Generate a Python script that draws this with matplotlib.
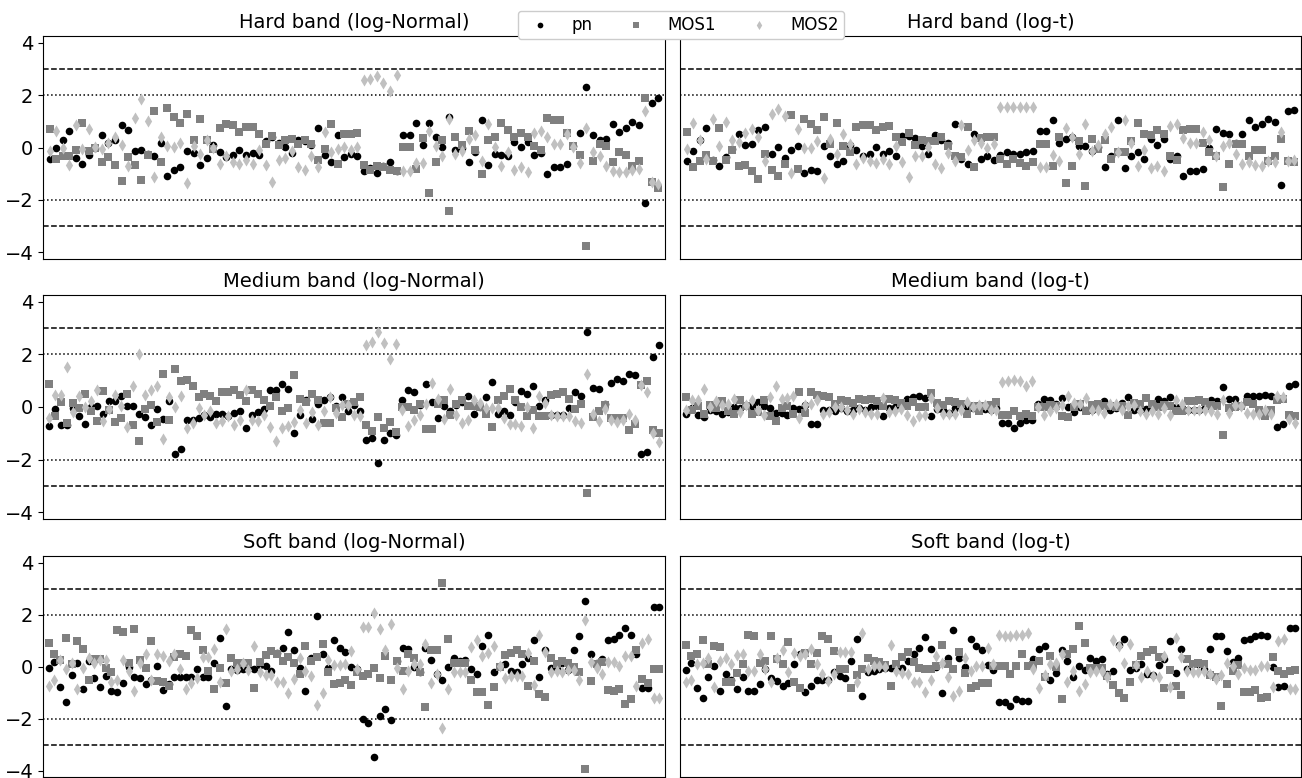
"""Standardised residuals per source for pn / MOS1 / MOS2 in three energy bands."""

import matplotlib

matplotlib.use("Agg")
import matplotlib.pyplot as plt
import numpy as np

BAND_TITLES = [
    "Hard band (log-Normal)", "Hard band (log-t)",
    "Medium band (log-Normal)", "Medium band (log-t)",
    "Soft band (log-Normal)", "Soft band (log-t)",
]
SERIES_LABELS = ["pn", "MOS1", "MOS2"]

# --- Hard band, log-Normal (94 sources) ---
hard_logn_pn = [
    -0.43, 0.0, 0.27, 0.61, -0.41, -0.63, -0.28, 0.0, 0.46, 0.19, 0.27, 0.86, 0.65, -0.13, -0.11, -0.25,
    -0.34, 0.18, -1.09, -0.84, -0.76, -0.15, -0.22, -0.65, -0.39, 0.10, -0.19, -0.37, -0.30, -0.09, -0.30,
    -0.22, -0.28, 0.25, 0.40, 0.19, 0.02, -0.2, 0.30, 0.24, 0.1, 0.73, -0.27, -0.57, 0.49, -0.37, -0.24,
    -0.32, -0.91, -0.79, -0.96, -0.72, -0.56, -0.89, 0.48, 0.48, 0.93, 0.1, 0.93, 0.39, 0.03, 1.16, -0.11,
    0.0, -0.56, -0.19, 1.04, -0.66, -0.24, -0.29, -0.34, 0.22, 0.03, 0.22, -0.28, -0.22, -1.02, -0.76,
    -0.76, -0.62, 0.04, 0.56, 2.3, 0.47, 0.3, 0.34, 0.89, 0.6, 0.76, 0.99, 0.85, -2.12, 1.68, 1.89,
]
hard_logn_mos1 = [
    0.7, -0.43, -0.34, -0.34, -0.1, 0.93, -0.15, 0.0, -0.57, -0.38, -0.66, -1.27, -0.38, -0.66, -1.23, -0.3,
    1.38, -0.55, 1.51, 1.16, 0.93, 1.27, 0.3, 1.09, 0.3, -0.05, 0.76, 0.88, 0.85, 0.6, 0.77, 0.79, 0.5,
    0.15, 0.44, 0.09, 0.29, 0.34, 0.14, 0.29, 0.13, -0.47, -0.05, 0.91, -0.63, 0.5, 0.5, 0.55, -0.65,
    -0.85, -0.69, -0.75, -0.85, -0.89, 0.03, 0.03, -0.83, 0.37, -1.74, -0.56, 0.28, -2.41, 0.39, 0.08,
    0.61, -0.11, -1.0, 0.27, 0.39, 0.95, 0.65, 0.39, 0.57, 0.39, 0.04, -0.11, 1.12, 1.03, 1.03, 0.57,
    0.05, -0.3, -3.77, -0.52, 0.14, 0.06, -0.56, -0.19, -0.29, -0.7, -0.52, 1.89, -1.31, -1.56,
]
hard_logn_mos2 = [
    -0.15, 0.61, -0.03, -0.65, 0.84, -0.04, 0.69, 0.03, -0.04, 0.19, 0.39, 0.09, -0.72, 1.14, 1.84, 1.0,
    -1.12, 0.39, 0.04, 0.01, 0.19, -1.35, 0.06, -0.23, 0.3, -0.03, -0.62, -0.34, -0.56, -0.62, -0.47,
    -0.62, -0.09, -0.67, -1.3, -0.47, -0.39, -0.15, -0.74, -0.85, -0.33, -0.74, 0.58, -0.18, -0.04, 0.01,
    -0.11, 0.03, 2.58, 2.6, 2.72, 2.45, 2.17, 2.78, -0.88, -0.88, -0.6, -0.58, 0.63, 0.06, -0.34, 1.09,
    -0.24, -0.15, 0.32, 0.47, -0.53, 0.88, 0.01, -0.7, -0.19, -0.84, -0.74, -0.94, 0.56, 0.61, 0.39,
    0.15, 0.15, 0.5, 0.03, -0.58, 0.75, -0.17, -0.34, -0.72, -0.88, -0.95, -0.95, -0.85, -0.83, 1.41,
    -1.31, -1.4,
]

# --- Hard band, log-t (94 sources) ---
hard_logt_pn = [
    -0.5, -0.15, 0.27, 0.76, -0.47, -0.7, -0.37, -0.04, 0.5, 0.11, 0.14, 0.67, 0.8, -0.23, 0.01, -0.39,
    -0.09, 0.06, -0.98, -0.85, -0.9, 0.06, -0.32, -0.62, -0.53, 0.11, -0.11, -0.32, -0.24, 0.01, -0.24,
    -0.15, -0.34, 0.42, 0.45, 0.36, 0.04, -0.24, 0.48, 0.3, 0.17, 0.9, -0.44, -0.62, 0.52, -0.45, -0.34,
    -0.47, -0.3, -0.18, -0.24, -0.25, -0.18, -0.15, 0.63, 0.63, 1.03, 0.19, 0.32, 0.39, 0.04, 0.04, -0.15,
    0.01, -0.75, -0.32, 1.05, -0.79, -0.34, -0.19, -0.42, 0.32, 0.11, 0.34, -0.44, -0.34, -1.08, -0.88,
    -0.88, -0.81, -0.03, 0.7, 0.57, 0.5, 0.17, 0.5, 1.05, 0.77, 0.9, 1.09, 0.98, -1.42, 1.41, 1.43,
]
hard_logt_mos1 = [
    0.58, -0.74, -0.53, -0.29, -0.5, 0.75, -0.47, -0.11, -0.7, -0.65, -0.89, -1.19, -0.24, -0.86, -1.1,
    -0.62, 1.24, -0.81, 1.09, 0.88, 0.65, 1.16, 0.14, 0.94, 0.04, -0.19, 0.77, 0.84, 0.85, 0.65, 0.77,
    0.83, 0.39, 0.22, 0.55, 0.11, 0.29, 0.23, 0.23, 0.39, 0.06, -0.32, -0.37, 0.77, -0.75, 0.35, 0.39,
    0.39, -0.44, -0.62, -0.44, -0.6, -0.72, -0.56, 0.14, 0.13, -0.69, 0.39, -1.36, -0.72, 0.23, -1.46,
    0.33, -0.05, 0.29, -0.44, -0.18, -0.18, 0.23, 0.95, 0.52, 0.48, 0.65, 0.52, -0.32, -0.47, 0.65, 0.7,
    0.7, 0.19, -0.18, -0.32, -1.49, -0.63, 0.14, 0.14, -0.34, -0.09, -0.11, -0.5, -0.34, 0.32, -0.53,
    -0.57,
]
hard_logt_mos2 = [
    -0.05, 0.95, 0.29, -0.44, 1.08, 0.04, 0.98, 0.29, 0.22, 0.55, 0.71, 0.39, -0.5, 1.28, 1.46, 1.21,
    -0.99, 0.71, -0.03, -0.03, 0.23, -1.16, 0.32, -0.24, 0.5, 0.14, -0.62, -0.41, -0.53, -0.6, -0.43,
    -0.62, 0.06, -0.57, -1.13, -0.34, -0.34, 0.03, -0.62, -0.79, -0.22, -0.5, 0.86, -0.09, 0.29, 0.17,
    -0.03, 0.14, 1.56, 1.56, 1.56, 1.56, 1.56, 1.56, -0.76, -0.76, -0.28, -0.53, 0.74, 0.39, -0.23, 0.88,
    -0.15, 0.08, 0.52, 0.77, -0.18, 1.05, 0.19, -0.7, -0.11, -0.79, -0.72, -0.91, 0.83, 0.9, 0.36, 0.17,
    0.17, 0.6, 0.29, -0.34, 0.04, 0.17, -0.24, -0.62, -0.57, -0.66, -0.72, -0.5, -0.57, 0.58, -0.52,
    -0.47,
]

# --- Medium band, log-Normal (103 sources) ---
medium_logn_pn = [
    -0.71, -0.08, -0.67, -0.70, -0.03, -0.33, -0.64, 0.0, 0.05, -0.27, 0.22, 0.24, 0.43, 0.05, 0.05,
    -0.25, -0.38, -0.67, -0.06, -0.46, 0.24, -1.77, -1.59, -0.51, -0.48, -0.42, -0.3, -0.38, -0.28, -0.25,
    -0.36, -0.23, -0.14, -0.79, -0.32, -0.19, -0.08, 0.64, 0.66, 0.89, 0.7, -0.99, -0.29, 0.25, -0.46,
    0.1, 0.25, 0.38, 0.05, 0.38, -0.15, 0.06, -0.17, -1.27, -1.16, -2.11, -1.27, -0.99, -1.07, 0.25, 0.66,
    0.56, 0.09, 0.87, 0.19, -0.42, 0.05, -0.17, 0.09, 0.2, 0.41, -0.25, 0.0, 0.38, 0.93, -0.25, -0.17,
    -0.32, 0.18, 0.61, 0.48, 0.8, 0.03, 0.28, -0.3, -0.3, -0.3, -0.03, 0.56, 0.41, 2.85, 0.73, 0.69, 0.11,
    0.92, 1.07, 0.99, 1.25, 1.2, -1.78, -1.69, 1.91, 2.34,
]
medium_logn_mos1 = [
    0.88, -0.33, 0.18, -0.59, 0.15, -0.03, 0.51, -0.15, -0.55, 0.61, -0.1, -0.57, -0.42, 0.5, -0.69, -1.3,
    -0.06, 0.06, -0.57, 1.27, -0.51, 1.45, 1.0, 1.02, 0.81, 0.38, 0.5, 0.41, 0.22, 0.57, 0.56, 0.66, 0.45,
    0.22, 0.64, 0.51, 0.28, 0.05, 0.38, -0.15, -0.04, 1.21, 0.32, 0.18, 0.51, 0.25, -0.62, -0.6, -0.05,
    -0.38, 0.1, 0.2, 0.37, -0.7, -0.9, -0.39, -0.8, -0.57, -0.93, 0.0, 0.0, -0.13, 0.13, -0.84, -0.84,
    0.13, 0.28, -0.32, 0.13, 0.25, 0.03, 0.03, 0.0, -0.25, -0.74, 0.28, 0.41, 0.7, 0.25, 0.0, -0.36,
    -0.1, -0.36, -0.36, 0.47, 0.5, 0.57, 0.31, -0.08, 0.1, -3.28, -0.39, -0.17, 0.06, -0.42, -0.4, -0.42,
    -0.87, -0.64, 0.85, 1.0, -0.87, -0.99,
]
medium_logn_mos2 = [
    -0.42, 0.45, 0.45, 1.51, -0.19, 0.41, 0.0, 0.22, 0.64, -0.55, -0.08, 0.47, 0.05, -0.74, 0.79, 2.0,
    0.47, 0.64, 0.79, -1.22, 0.38, 0.0, 0.41, -0.8, -0.61, -0.04, -0.29, -0.17, -0.59, -0.55, -0.36,
    -0.67, -0.51, 0.64, -0.48, -0.55, -0.29, -0.76, -1.28, -0.8, -0.71, -0.57, -0.1, -0.61, -0.2, -0.67,
    -0.15, 0.38, -0.23, 0.09, 0.09, -0.32, -0.36, 2.34, 2.47, 2.85, 2.44, 1.83, 2.38, -0.1, -0.71, -0.51,
    -0.29, 0.13, 0.92, 0.31, -0.46, 0.69, -0.32, -0.61, -0.51, 0.25, 0.15, -0.04, -0.04, -0.04, -0.41,
    -0.64, -0.64, -0.71, 0.0, -0.8, 0.43, 0.15, -0.32, -0.36, -0.36, -0.36, -0.52, -0.59, 1.25, -0.25,
    -0.55, -0.08, -0.51, -0.57, -0.51, -0.25, -0.51, 0.85, 0.57, -0.99, -1.31,
]

# --- Medium band, log-t (103 sources) ---
medium_logt_pn = [
    -0.25, -0.04, -0.32, -0.39, -0.1, -0.17, -0.25, -0.2, -0.01, -0.04, 0.09, 0.03, 0.18, 0.03, -0.04,
    -0.23, -0.23, -0.32, -0.04, -0.08, 0.09, -0.64, -0.64, -0.1, -0.12, -0.17, -0.04, -0.17, -0.1, -0.04,
    -0.1, 0.0, 0.03, -0.36, -0.04, 0.0, 0.05, 0.31, 0.37, 0.43, 0.34, -0.36, -0.08, -0.1, -0.23, -0.05,
    0.13, 0.0, -0.05, 0.09, -0.08, -0.1, -0.05, -0.59, -0.59, -0.81, -0.59, -0.51, -0.51, 0.13, 0.31,
    0.25, 0.1, 0.34, 0.0, -0.2, 0.0, -0.1, -0.1, -0.05, 0.22, -0.1, -0.05, 0.15, 0.38, -0.1, -0.1, -0.08,
    -0.05, 0.31, 0.22, 0.38, 0.0, -0.05, -0.1, -0.1, -0.1, -0.05, 0.25, 0.22, 0.76, 0.31, 0.31, 0.05,
    0.41, 0.43, 0.41, 0.47, 0.43, -0.74, -0.64, 0.79, 0.88,
]
medium_logt_mos1 = [
    0.37, -0.1, 0.03, -0.25, 0.09, -0.04, 0.22, -0.17, -0.25, 0.28, 0.03, -0.25, -0.2, 0.25, -0.33,
    -0.55, -0.04, 0.03, -0.25, 0.56, -0.23, 0.57, 0.45, 0.43, 0.38, 0.13, 0.25, 0.22, 0.15, 0.31, 0.28,
    0.32, 0.22, 0.05, 0.31, 0.25, 0.15, 0.03, 0.18, -0.01, -0.01, 0.53, 0.15, 0.09, 0.22, 0.18, 0.1,
    -0.25, 0.05, -0.17, 0.03, 0.09, 0.18, -0.32, -0.32, -0.17, -0.36, -0.27, -0.36, 0.0, 0.0, 0.09, 0.05,
    -0.36, -0.38, 0.0, 0.13, -0.17, 0.09, 0.13, 0.03, 0.05, 0.0, 0.05, -0.32, 0.15, 0.13, 0.34, 0.13, 0.0,
    0.09, 0.02, -0.17, -0.17, 0.22, 0.22, 0.28, 0.18, 0.09, 0.05, -1.08, -0.05, 0.0, 0.05, 0.18, 0.13,
    -0.1, -0.36, -0.1, 0.25, 0.3, -0.29, -0.33,
]
medium_logt_mos2 = [
    -0.1, 0.25, 0.28, 0.69, 0.0, 0.22, 0.09, 0.13, 0.32, -0.2, 0.09, 0.25, -0.1, -0.29, 0.37, 0.81, 0.31,
    0.34, 0.41, -0.42, 0.09, 0.13, 0.25, -0.25, -0.2, 0.0, 0.0, -0.1, -0.25, -0.08, -0.2, -0.25, -0.25,
    0.34, -0.2, -0.17, -0.08, -0.32, -0.55, -0.36, -0.32, 0.34, -0.04, -0.25, -0.25, -0.25, -0.1, 0.18,
    0.0, 0.09, 0.09, -0.13, -0.13, 0.94, 0.98, 1.04, 0.98, 0.79, 0.98, 0.0, -0.29, -0.17, -0.04, 0.09,
    0.41, 0.15, 0.1, 0.34, -0.13, -0.1, -0.23, 0.13, 0.13, -0.1, 0.05, 0.09, -0.17, -0.25, -0.17, -0.25,
    -0.04, -0.32, 0.25, 0.13, -0.1, -0.1, -0.1, -0.13, -0.17, -0.25, 0.28, -0.23, 0.09, 0.03, -0.23,
    -0.25, -0.25, -0.13, -0.25, 0.41, 0.38, -0.46, -0.59,
]

# --- Soft band, log-Normal (108 sources) ---
soft_logn_pn = [
    -0.05, 0.18, -0.78, -1.35, -0.34, 0.15, -0.85, 0.22, -0.43, -0.78, -0.37, -0.93, -0.99, -0.62, 0.0,
    -0.39, -0.45, -0.67, -0.5, 0.03, -0.92, -0.67, -0.42, -0.42, -0.42, -0.42, -0.1, -0.39, -0.42, 0.15,
    1.08, -1.53, -0.1, -0.14, -0.11, 0.0, -0.1, 0.05, 0.03, -0.17, 0.53, 0.7, 1.31, 0.62, -0.04, -0.93,
    0.34, 1.95, 0.5, -0.04, 1.02, 0.73, 0.56, -0.01, -0.1, -2.01, -2.18, -3.47, -1.9, -1.64, -2.07, 0.22,
    0.73, 0.67, -0.01, -0.2, 0.73, 0.24, -0.29, -0.5, -0.01, 0.31, 0.22, 0.24, -0.1, -0.29, 0.78, 1.2,
    -0.23, 0.03, 0.11, -0.17, -0.23, 0.11, 0.34, 1.03, -0.42, 0.65, -0.04, -0.1, 0.15, -0.15, 0.62, 1.17,
    2.53, 0.5, 0.15, 0.28, 1.03, 1.07, 1.21, 1.48, 1.23, 0.5, -0.84, -0.84, 2.28, 2.3,
]
soft_logn_mos1 = [
    0.92, 0.5, 0.25, 1.08, 0.1, 0.98, 0.66, -0.52, 0.3, 0.3, -0.05, -0.2, 1.41, 1.32, 0.14, 1.45, 0.24,
    -0.05, 0.98, -0.55, -0.59, -0.75, 0.35, 0.47, 0.4, 1.39, 1.16, 0.65, -0.17, -0.87, -0.05, -0.65, 0.31,
    0.15, 0.15, 0.15, -0.84, 0.18, 0.43, 0.6, 0.5, 0.22, 0.37, 0.15, -0.29, 0.78, 0.22, 0.37, 0.88, -0.23,
    -0.67, -0.65, -0.5, -0.71, -0.2, -0.37, -0.27, -0.04, -0.43, 0.41, -0.52, 0.2, -0.17, 0.47, 0.34,
    -0.2, -1.54, 0.65, 0.65, 3.23, 1.07, 0.14, 0.14, 0.14, -0.52, -0.99, -0.99, -1.48, -0.78, 0.0, 0.46,
    0.52, 0.65, 0.47, -0.75, 0.2, -1.06, -1.16, 0.31, 0.11, 0.22, 0.15, 0.0, -0.23, -3.96, -0.55, 0.1,
    0.18, -0.9, -0.93, -0.87, -1.44, -1.26, 0.62, -0.48, -0.62, -0.08, -0.11,
]
soft_logn_mos2 = [
    -0.74, -0.5, 0.24, -0.1, 0.14, -0.88, -0.04, 0.31, 0.14, 0.24, 0.24, -0.59, -0.52, 0.24, -0.17,
    -0.93, 0.15, 0.47, -0.5, 0.5, 0.39, 0.22, 0.47, -0.1, -0.88, -0.65, -0.46, 0.37, 0.37, 0.66, -0.59,
    1.45, -0.17, -0.11, 0.15, -0.14, 0.79, -0.2, -0.33, -0.33, -0.59, -0.59, -1.03, -0.48, 0.31, -0.17,
    -0.37, -1.48, -1.0, 0.24, 0.05, 0.05, 0.1, 0.6, -0.1, 1.51, 1.51, 2.05, 1.45, 0.62, 1.64, -0.04,
    -0.87, -0.17, 0.11, 0.11, 0.85, -0.65, -0.29, -2.37, -0.87, -0.2, -0.2, -0.2, 0.75, 1.03, 0.39, 0.52,
    0.79, 0.03, -0.46, -0.36, -0.36, -0.36, 0.52, -0.71, 1.2, 0.56, -0.2, -0.17, -0.23, -0.14, -0.14,
    -0.52, 1.77, 0.18, -0.04, -0.27, 0.18, 0.18, 0.03, 0.39, 0.39, -0.75, 0.92, 1.05, -1.22, -1.22,
]

# --- Soft band, log-t (108 sources) ---
soft_logt_pn = [
    -0.14, 0.15, -0.84, -1.2, -0.42, 0.03, -0.93, -0.3, -0.52, -0.85, -0.42, -0.93, -0.95, -0.67, -0.08,
    -0.46, -0.55, -0.74, -0.62, 0.09, 0.47, -0.97, -0.74, -0.52, -0.52, -0.52, -0.2, -0.37, -0.46, 0.22,
    1.07, -1.12, -0.2, -0.17, -0.1, -0.04, -0.04, 0.0, -0.04, 0.2, 0.5, 0.73, 1.13, 0.66, -0.01, -1.0,
    0.34, 1.39, 0.34, -0.01, 1.04, 0.79, 0.62, 0.05, -0.14, -1.35, -1.37, -1.5, -1.26, -1.31, -1.31, 0.28,
    0.66, 0.79, -0.5, -0.24, 0.65, 0.2, -0.42, 0.03, -0.14, 0.31, 0.2, 0.27, -0.29, -0.17, 0.81, 1.04,
    -0.14, -0.04, 0.09, -0.27, -0.33, 0.05, 0.3, 0.98, -0.24, 0.69, -0.08, 0.11, 0.1, -0.1, 0.69, 1.16,
    1.16, 0.6, 0.18, 0.31, 1.03, 1.07, 1.16, 1.23, 1.16, 0.0, -0.78, -0.74, 1.49, 1.49,
]
soft_logt_mos1 = [
    0.81, 0.39, 0.47, 1.01, 0.1, 0.78, 0.75, -0.59, -0.6, -0.24, 0.1, 1.2, 1.17, 0.15, 0.2, 1.17, 0.3,
    0.11, 0.94, -0.59, -0.81, 0.52, 0.11, 0.52, 1.16, 1.04, 0.59, -0.1, -0.08, -0.84, -0.33, -0.08, 0.31,
    0.2, 0.18, 0.05, -0.74, 0.11, 0.37, 0.56, 0.18, -0.04, -0.08, -0.08, 0.03, 0.81, 0.11, -0.08, 0.56,
    -0.24, -0.84, -0.75, -0.62, -0.65, 0.01, 0.01, 0.01, -0.27, 0.03, 0.47, 0.03, 0.05, 0.22, -0.39, 0.39,
    0.0, -1.26, 0.47, 0.69, 1.54, 0.9, -0.04, -0.04, -0.04, -0.37, -0.71, -1.03, -1.22, -0.59, 0.05, 0.39,
    0.56, 0.62, 0.37, -0.81, -0.14, -0.75, -1.09, 0.27, 0.11, 0.15, 0.11, -0.33, -0.39, -1.51, -0.67,
    -0.17, 0.05, -0.97, -0.97, -0.9, -1.22, -1.16, 0.37, -0.17, -0.29, -0.17, -0.14,
]
soft_logt_mos2 = [
    -0.61, -0.5, 0.1, 0.15, 0.31, -0.78, 0.2, 0.31, 0.1, 0.43, 0.47, -0.17, -0.17, 0.5, -0.08, -0.61,
    0.31, 0.62, -0.23, 0.52, 0.39, 0.5, 0.69, 0.11, -0.27, -0.55, -0.29, 0.56, 0.56, 0.56, -0.61, 1.28,
    -0.11, 0.01, 0.01, -0.01, 0.81, -0.17, -0.24, -0.27, -0.61, -0.61, -0.99, -0.52, 0.39, 0.15, -0.39,
    -1.13, -0.93, 0.34, -0.17, 0.03, 0.03, 0.73, 0.11, 1.2, 1.17, 1.17, 1.23, 1.2, 1.3, -0.1, -0.84,
    -0.33, 0.11, 0.15, 0.47, -0.61, -0.17, -0.93, -0.67, -0.2, -0.17, -0.17, -0.39, 1.01, 0.79, 0.15,
    0.85, 0.05, -0.42, -0.17, -0.37, -0.39, 0.39, -0.78, 1.1, 0.37, -0.17, -0.2, -0.2, -0.17, -0.29,
    -0.48, -0.33, 0.15, 0.03, -0.27, -0.04, -0.14, -0.14, 0.03, 0.03, -0.8, 0.98, 1.04, -0.87, -0.87,
]

PANELS = [
    (hard_logn_pn, hard_logn_mos1, hard_logn_mos2),
    (hard_logt_pn, hard_logt_mos1, hard_logt_mos2),
    (medium_logn_pn, medium_logn_mos1, medium_logn_mos2),
    (medium_logt_pn, medium_logt_mos1, medium_logt_mos2),
    (soft_logn_pn, soft_logn_mos1, soft_logn_mos2),
    (soft_logt_pn, soft_logt_mos1, soft_logt_mos2),
]

W, H = 1302, 778
# axes boxes in pixels: (left, top, right, bottom)
COL_X = [(43, 665), (680, 1301)]
ROW_Y = [(36, 259), (295, 519), (556, 777)]


def draw_panel(ax, pn, mos1, mos2, title, show_y):
    x = np.arange(len(pn))
    ax.scatter(x, pn, s=30, marker="o", color="black", linewidths=0, label="pn", zorder=3)
    ax.scatter(x, mos1, s=26, marker="s", color="grey", linewidths=0, label="MOS1", zorder=3)
    ax.scatter(x, mos2, s=38, marker="d", color="silver", linewidths=0, label="MOS2", zorder=3)
    for lvl in (3, -3):
        ax.axhline(lvl, color="black", linestyle="--", linewidth=1.1, zorder=2)
    for lvl in (2, -2):
        ax.axhline(lvl, color="black", linestyle=":", linewidth=1.1, zorder=2)
    ax.set_xlim(-1, len(pn))
    ax.set_ylim(-4.25, 4.25)
    ax.set_xticks([])
    if show_y:
        ax.set_yticks([-4, -2, 0, 2, 4])
        ax.tick_params(axis="y", labelsize=14)
    else:
        ax.set_yticks([])
    ax.set_title(title, fontsize=14)


fig = plt.figure(figsize=(W / 100, H / 100), dpi=100)

for k, (series, title) in enumerate(zip(PANELS, BAND_TITLES)):
    row, col = divmod(k, 2)
    x0, x1 = COL_X[col]
    y0, y1 = ROW_Y[row]
    ax = fig.add_axes([x0 / W, 1 - y1 / H, (x1 - x0) / W, (y1 - y0) / H])
    draw_panel(ax, *series, title, show_y=(col == 0))
    if k == 0:
        handles, labels = ax.get_legend_handles_labels()

fig.legend(handles, labels, loc="upper center", bbox_to_anchor=(681 / W, 0.997), ncol=3,
           fontsize=12, markerscale=0.75, columnspacing=1.6, handletextpad=0.9,
           borderpad=0.3, framealpha=1.0)

fig.savefig("out.png", dpi=100)
